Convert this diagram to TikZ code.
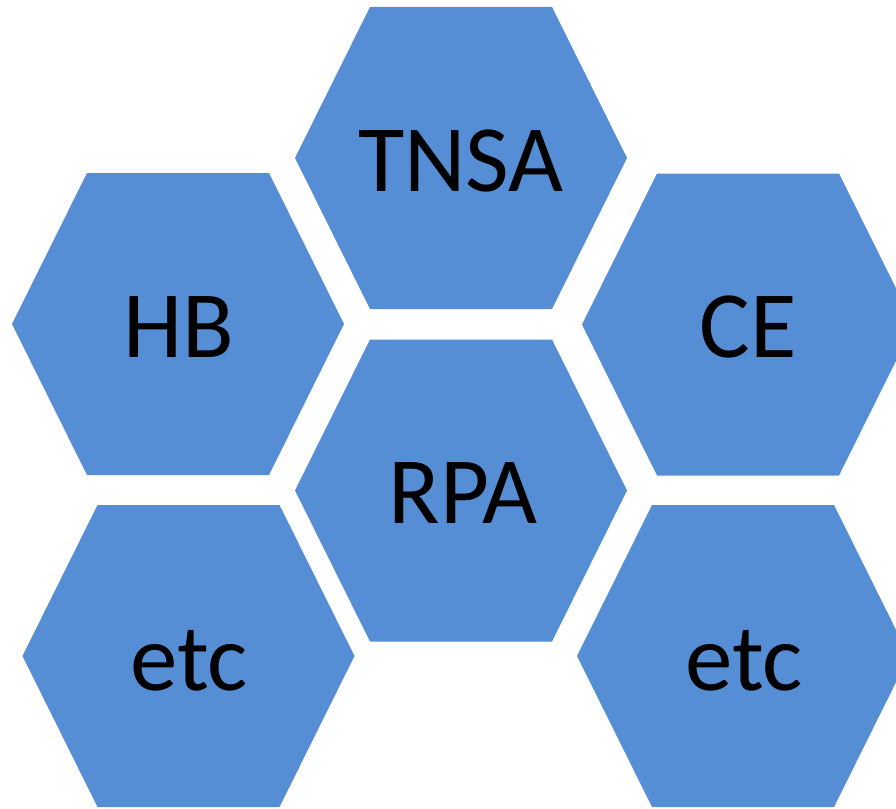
\documentclass[tikz,border=0pt]{standalone}
\usepackage{fontspec}
\setmainfont{Carlito}
\definecolor{hexblue}{RGB}{85,142,213}
\tikzset{
  hexfill/.style={fill=hexblue, draw=none},
  hexlabel/.style={anchor=base, inner sep=0pt, font=\fontsize{95}{100}\selectfont, text=black},
  pics/hexagon/.style={code={
    \path[hexfill] (-166,0) -- (-91,-151) -- (91,-151) -- (166,0) -- (91,151) -- (-91,151) -- cycle;
  }}
}
\begin{document}
\begin{tikzpicture}[x=1pt,y=-1pt]
\path[use as bounding box] (0,0) rectangle (896,808);
\clip (0,0) rectangle (896,808);
\pic at (461,158) {hexagon};
\pic at (461,490.5) {hexagon};
\pic at (178,324) {hexagon};
\pic at (748,324.5) {hexagon};
\pic at (188.5,656) {hexagon};
\pic at (743,656) {hexagon};
\node[hexlabel] (tnsa) at (461,191) {TNSA};
\node[hexlabel] (rpa) at (463,523.5) {RPA};
\node[hexlabel] (hb) at (179,357) {HB};
\node[hexlabel] (ce) at (748,357.5) {CE};
\node[hexlabel] (etcl) at (189,690) {etc};
\node[hexlabel] (etcr) at (744,690) {etc};
\end{tikzpicture}
\end{document}
